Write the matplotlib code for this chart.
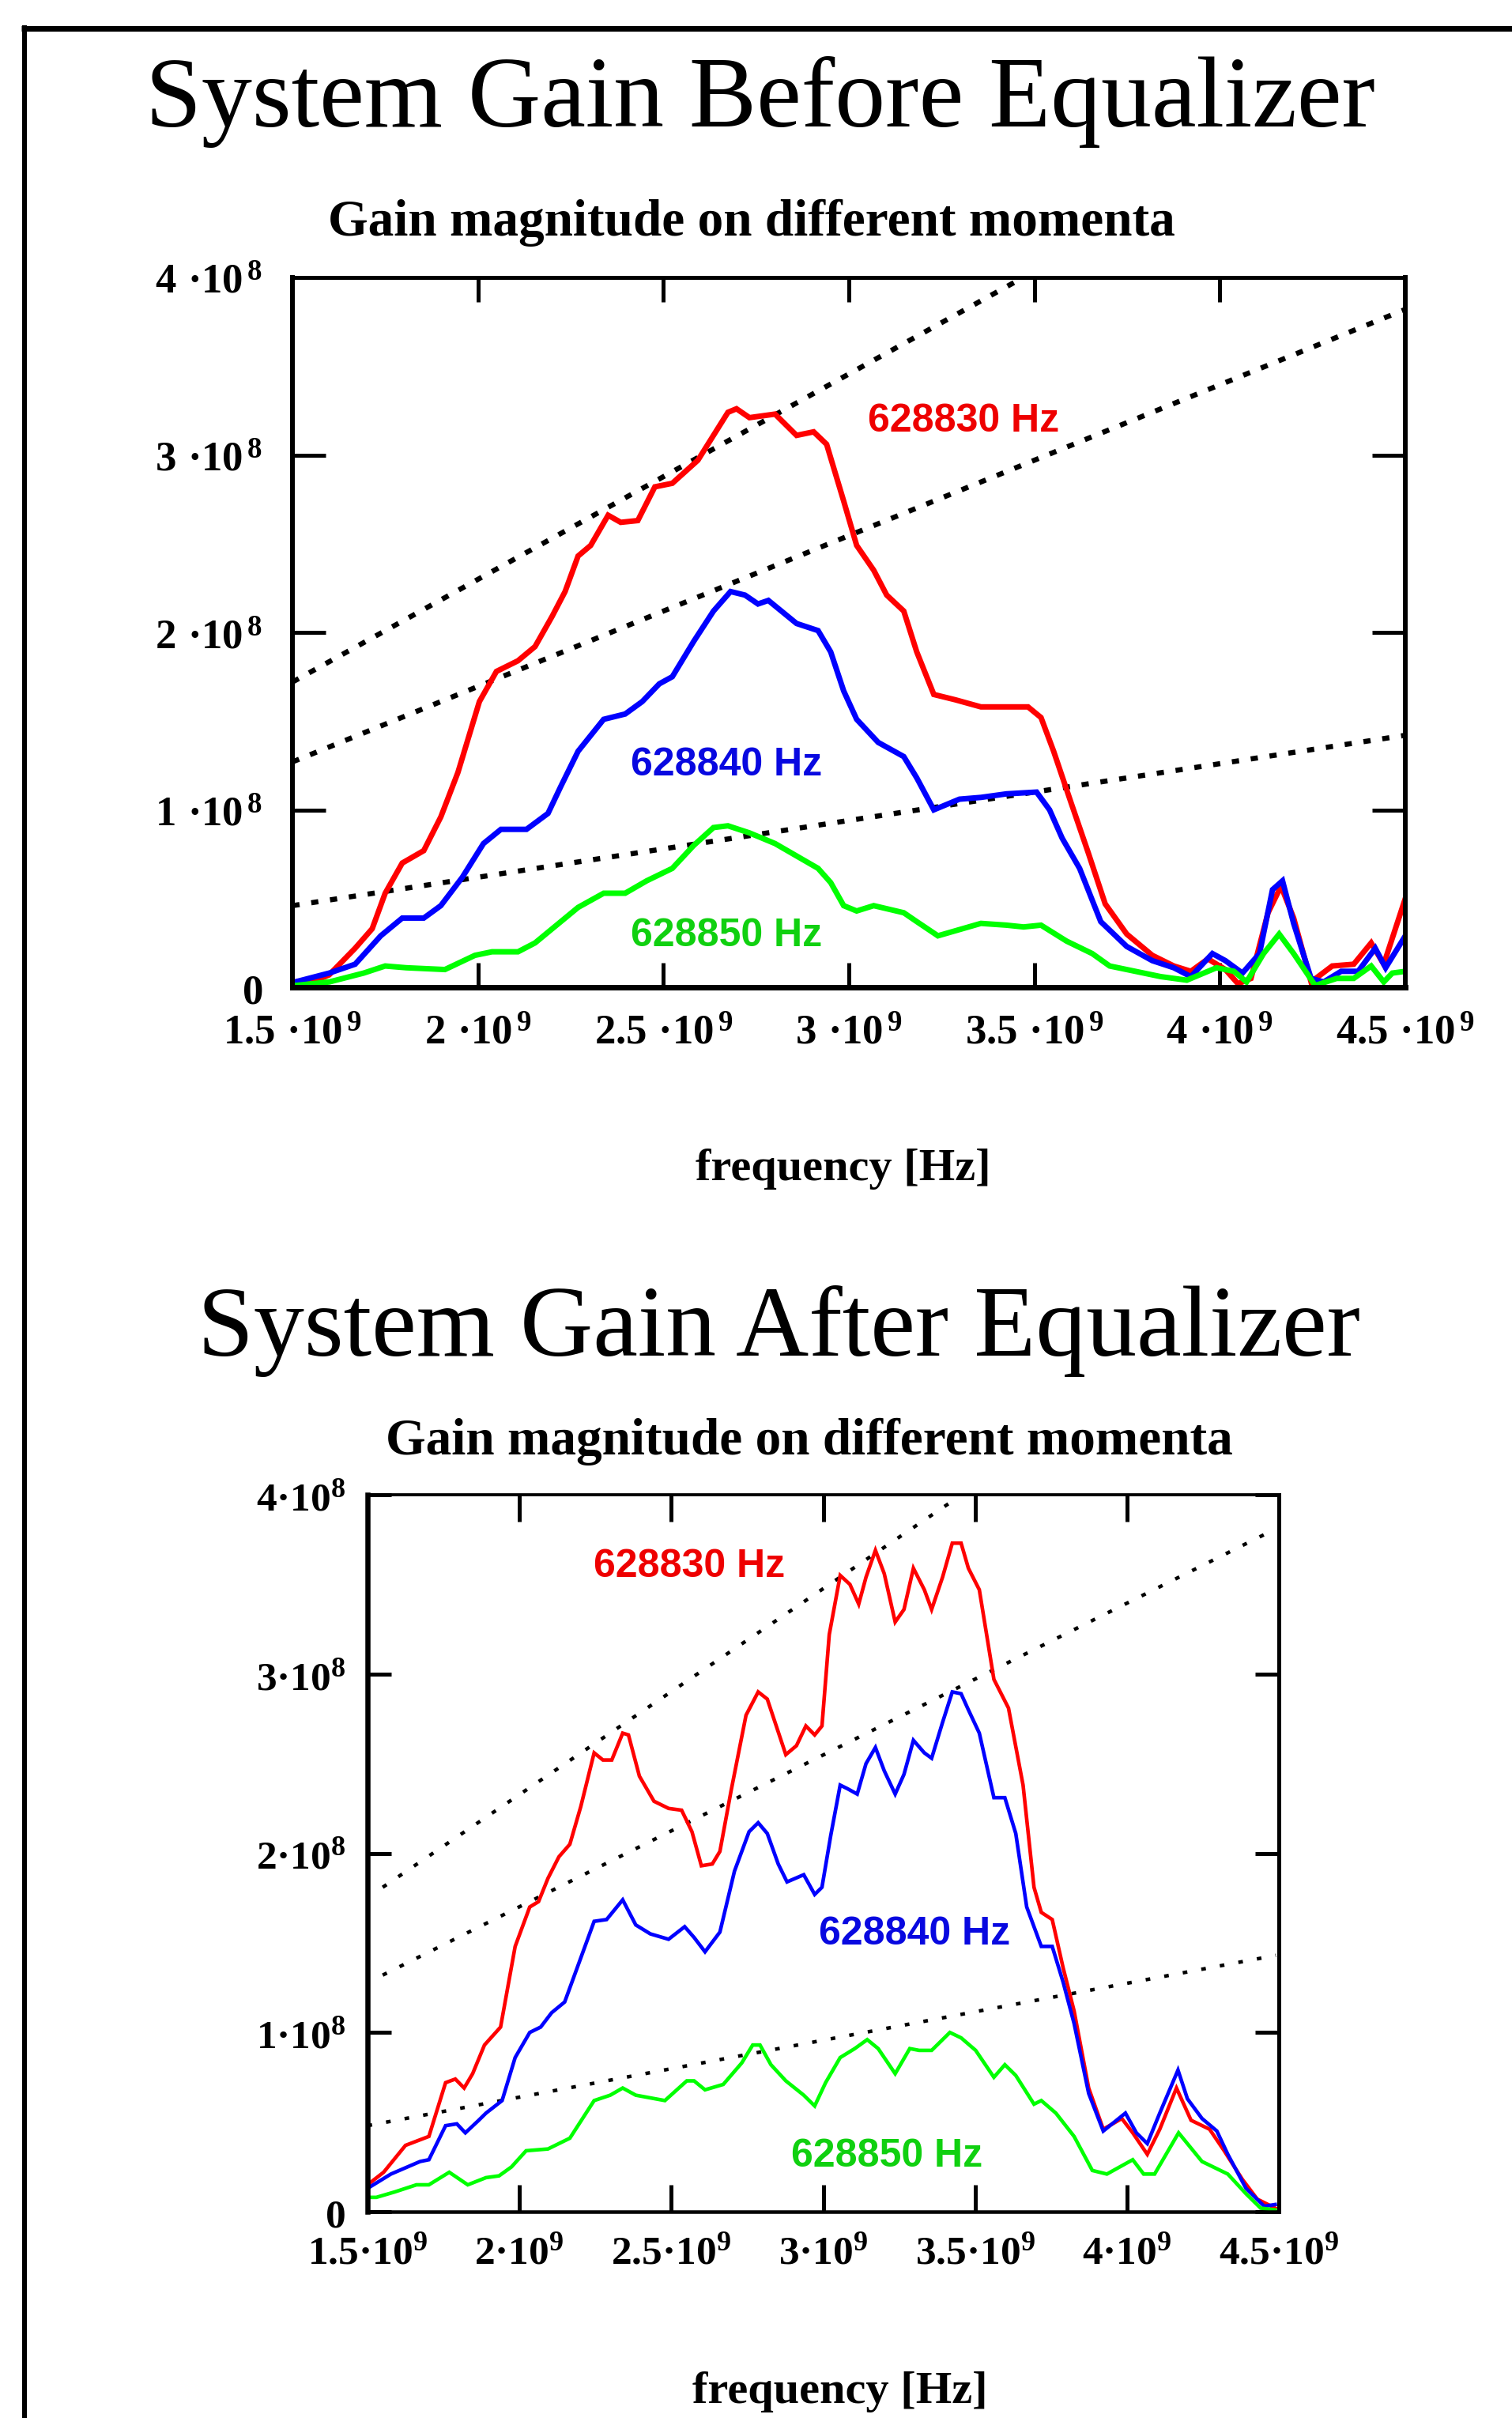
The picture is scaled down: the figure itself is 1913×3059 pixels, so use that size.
import matplotlib
matplotlib.use('Agg')
import matplotlib.pyplot as plt
from matplotlib.lines import Line2D

W, H, DPI = 1913, 3059, 100

# ---------------- data (x in 1e9 Hz, y in 1e8) ----------------
# Top chart: before equalizer
before_830_x = [1.507, 1.576, 1.599, 1.669, 1.715, 1.750, 1.796, 1.854, 1.900, 1.946,
                2.004, 2.050, 2.108, 2.154, 2.200, 2.235, 2.270, 2.304, 2.351, 2.385,
                2.431, 2.477, 2.524, 2.593, 2.674, 2.697, 2.732, 2.801, 2.859, 2.905,
                2.940, 2.986, 3.021, 3.067, 3.102, 3.148, 3.183, 3.229, 3.287, 3.356,
                3.483, 3.518, 3.552, 3.599, 3.645, 3.691, 3.749, 3.818, 3.876, 3.922,
                3.968, 4.015, 4.049, 4.084, 4.130, 4.165, 4.199, 4.246, 4.303, 4.361,
                4.408, 4.442, 4.500]
before_830_y = [0.03, 0.05, 0.07, 0.22, 0.33, 0.53, 0.70, 0.77, 0.96, 1.21,
                1.61, 1.78, 1.84, 1.92, 2.09, 2.23, 2.43, 2.49, 2.66, 2.62,
                2.63, 2.82, 2.84, 2.97, 3.24, 3.26, 3.21, 3.23, 3.11, 3.13,
                3.06, 2.74, 2.49, 2.35, 2.21, 2.12, 1.89, 1.65, 1.62, 1.58,
                1.58, 1.52, 1.33, 1.04, 0.76, 0.47, 0.30, 0.18, 0.12, 0.09,
                0.16, 0.10, 0.02, 0.05, 0.42, 0.57, 0.39, 0.03, 0.12, 0.13,
                0.25, 0.13, 0.50]

before_840_x = [1.507, 1.599, 1.669, 1.738, 1.796, 1.854, 1.900, 1.958, 2.015, 2.062,
                2.131, 2.189, 2.223, 2.270, 2.339, 2.397, 2.443, 2.489, 2.524, 2.582,
                2.635, 2.681, 2.720, 2.755, 2.783, 2.859, 2.917, 2.951, 2.986, 3.021,
                3.079, 3.148, 3.183, 3.229, 3.298, 3.356, 3.425, 3.506, 3.541, 3.575,
                3.622, 3.679, 3.749, 3.818, 3.876, 3.922, 3.980, 4.015, 4.061, 4.107,
                4.142, 4.169, 4.199, 4.246, 4.280, 4.327, 4.373, 4.419, 4.447, 4.500]
before_840_y = [0.03, 0.08, 0.13, 0.29, 0.39, 0.39, 0.46, 0.62, 0.81, 0.89,
                0.89, 0.98, 1.13, 1.33, 1.51, 1.54, 1.61, 1.71, 1.75, 1.95,
                2.12, 2.23, 2.21, 2.16, 2.18, 2.05, 2.01, 1.89, 1.67, 1.51,
                1.38, 1.30, 1.18, 1.00, 1.06, 1.07, 1.09, 1.10, 1.00, 0.84,
                0.67, 0.37, 0.23, 0.15, 0.11, 0.06, 0.19, 0.15, 0.08, 0.19,
                0.55, 0.60, 0.36, 0.05, 0.03, 0.09, 0.09, 0.22, 0.11, 0.29]

before_850_x = [1.507, 1.599, 1.692, 1.750, 1.807, 1.911, 1.992, 2.038, 2.108, 2.154,
                2.212, 2.270, 2.339, 2.397, 2.455, 2.524, 2.582, 2.635, 2.674, 2.732,
                2.801, 2.859, 2.917, 2.951, 2.986, 3.021, 3.067, 3.148, 3.183, 3.240,
                3.356, 3.425, 3.471, 3.518, 3.587, 3.656, 3.703, 3.772, 3.841, 3.911,
                3.991, 4.038, 4.072, 4.118, 4.160, 4.199, 4.257, 4.315, 4.361, 4.408,
                4.442, 4.465, 4.500]
before_850_y = [0.01, 0.03, 0.08, 0.12, 0.11, 0.10, 0.18, 0.20, 0.20, 0.25,
                0.35, 0.45, 0.53, 0.53, 0.60, 0.67, 0.80, 0.90, 0.91, 0.87,
                0.81, 0.74, 0.67, 0.59, 0.46, 0.43, 0.46, 0.42, 0.37, 0.29,
                0.36, 0.35, 0.34, 0.35, 0.26, 0.19, 0.12, 0.09, 0.06, 0.04,
                0.11, 0.09, 0.03, 0.19, 0.30, 0.19, 0.01, 0.05, 0.05, 0.12,
                0.03, 0.08, 0.09]

# Bottom chart: after equalizer
after_830_x = [1.500, 1.553, 1.625, 1.702, 1.757, 1.789, 1.818, 1.846, 1.885, 1.938,
               1.986, 2.034, 2.063, 2.094, 2.130, 2.166, 2.202, 2.246, 2.275, 2.304,
               2.340, 2.359, 2.395, 2.443, 2.491, 2.534, 2.568, 2.599, 2.635, 2.660,
               2.697, 2.746, 2.786, 2.816, 2.877, 2.912, 2.943, 2.972, 2.996, 3.020,
               3.056, 3.088, 3.117, 3.141, 3.172, 3.201, 3.237, 3.266, 3.297, 3.333,
               3.357, 3.393, 3.425, 3.454, 3.478, 3.514, 3.562, 3.610, 3.658, 3.694,
               3.718, 3.754, 3.790, 3.826, 3.874, 3.922, 3.983, 4.019, 4.067, 4.108,
               4.163, 4.211, 4.272, 4.320, 4.380, 4.429, 4.488]
after_830_y = [0.15, 0.22, 0.37, 0.42, 0.72, 0.74, 0.69, 0.77, 0.93, 1.03,
               1.48, 1.70, 1.73, 1.86, 1.98, 2.05, 2.26, 2.56, 2.52, 2.52,
               2.67, 2.66, 2.43, 2.29, 2.25, 2.24, 2.12, 1.93, 1.94, 2.01,
               2.35, 2.77, 2.90, 2.86, 2.55, 2.60, 2.71, 2.66, 2.71, 3.22,
               3.55, 3.50, 3.39, 3.54, 3.69, 3.56, 3.29, 3.36, 3.59, 3.47,
               3.36, 3.54, 3.73, 3.73, 3.59, 3.47, 2.97, 2.81, 2.38, 1.81,
               1.67, 1.63, 1.36, 1.12, 0.69, 0.46, 0.52, 0.44, 0.32, 0.46,
               0.69, 0.51, 0.46, 0.34, 0.18, 0.07, 0.02]

after_840_x = [1.500, 1.577, 1.673, 1.702, 1.757, 1.794, 1.822, 1.866, 1.890, 1.943,
               1.986, 2.034, 2.070, 2.106, 2.149, 2.190, 2.246, 2.287, 2.340, 2.383,
               2.431, 2.491, 2.544, 2.575, 2.611, 2.660, 2.708, 2.756, 2.786, 2.816,
               2.852, 2.881, 2.936, 2.972, 2.996, 3.025, 3.056, 3.080, 3.112, 3.141,
               3.172, 3.201, 3.237, 3.266, 3.297, 3.333, 3.357, 3.393, 3.425, 3.454,
               3.478, 3.514, 3.562, 3.598, 3.634, 3.670, 3.718, 3.754, 3.790, 3.826,
               3.874, 3.922, 3.995, 4.031, 4.067, 4.108, 4.168, 4.199, 4.247, 4.296,
               4.332, 4.392, 4.452, 4.488]
after_840_y = [0.13, 0.21, 0.28, 0.29, 0.48, 0.49, 0.44, 0.51, 0.55, 0.62,
               0.86, 1.00, 1.03, 1.11, 1.17, 1.36, 1.62, 1.63, 1.74, 1.60,
               1.55, 1.52, 1.59, 1.53, 1.45, 1.56, 1.90, 2.12, 2.17, 2.11,
               1.94, 1.84, 1.88, 1.77, 1.81, 2.10, 2.38, 2.36, 2.33, 2.50,
               2.59, 2.46, 2.33, 2.44, 2.63, 2.56, 2.53, 2.73, 2.90, 2.89,
               2.80, 2.67, 2.31, 2.31, 2.11, 1.70, 1.48, 1.48, 1.28, 1.05,
               0.66, 0.45, 0.55, 0.44, 0.38, 0.55, 0.79, 0.63, 0.52, 0.45,
               0.32, 0.13, 0.03, 0.04]

after_850_x = [1.500, 1.529, 1.589, 1.661, 1.702, 1.769, 1.830, 1.890, 1.933, 1.974,
               2.022, 2.094, 2.166, 2.246, 2.299, 2.340, 2.383, 2.479, 2.551, 2.575,
               2.611, 2.671, 2.732, 2.768, 2.792, 2.828, 2.877, 2.936, 2.972, 3.008,
               3.056, 3.104, 3.145, 3.181, 3.237, 3.285, 3.316, 3.357, 3.417, 3.454,
               3.502, 3.562, 3.598, 3.634, 3.694, 3.718, 3.766, 3.826, 3.886, 3.934,
               4.019, 4.055, 4.091, 4.170, 4.247, 4.332, 4.392, 4.440, 4.488]
after_850_y = [0.08, 0.08, 0.11, 0.15, 0.15, 0.22, 0.15, 0.19, 0.20, 0.25,
               0.34, 0.35, 0.41, 0.62, 0.65, 0.69, 0.65, 0.62, 0.73, 0.73,
               0.68, 0.71, 0.83, 0.93, 0.93, 0.82, 0.73, 0.65, 0.59, 0.72,
               0.86, 0.91, 0.96, 0.91, 0.77, 0.91, 0.90, 0.90, 1.00, 0.97,
               0.90, 0.75, 0.82, 0.76, 0.60, 0.62, 0.55, 0.42, 0.23, 0.21,
               0.29, 0.21, 0.21, 0.44, 0.28, 0.21, 0.10, 0.02, 0.01]

# dotted reference lines: (x0, x1), (y0, y1)
before_refs = [((1.50, 3.47), (1.72, 4.00)),
               ((1.50, 4.50), (1.27, 3.82)),
               ((1.50, 4.50), (0.46, 1.42))]
after_refs = [((1.55, 3.43), (1.81, 3.97)),
              ((1.55, 4.49), (1.32, 3.81)),
              ((1.50, 4.49), (0.48, 1.43))]

series_names = ['628830 Hz', '628840 Hz', '628850 Hz']
line_colors = ['#ff0000', '#0000ff', '#00ff00']
text_colors = ['#ee0000', '#0808e0', '#10d010']
before_label_pos = [(3.31, 3.19), (2.67, 1.25), (2.67, 0.29)]
after_label_pos = [(2.56, 3.60), (3.30, 1.55), (3.21, 0.31)]

xtick_vals = [1.5, 2.0, 2.5, 3.0, 3.5, 4.0, 4.5]
ytick_vals = [0, 1, 2, 3, 4]
before_xticklabels = [r'$1.5\ ·10^{\,9}$', r'$2\ ·10^{\,9}$', r'$2.5\ ·10^{\,9}$',
                      r'$3\ ·10^{\,9}$', r'$3.5\ ·10^{\,9}$', r'$4\ ·10^{\,9}$',
                      r'$4.5\ ·10^{\,9}$']
before_yticklabels = [r'$0$', r'$1\ ·10^{\,8}$', r'$2\ ·10^{\,8}$',
                      r'$3\ ·10^{\,8}$', r'$4\ ·10^{\,8}$']
after_xticklabels = [r'$1.5·10^{9}$', r'$2·10^{9}$', r'$2.5·10^{9}$',
                     r'$3·10^{9}$', r'$3.5·10^{9}$', r'$4·10^{9}$',
                     r'$4.5·10^{9}$']
after_yticklabels = [r'$0$', r'$1·10^{8}$', r'$2·10^{8}$',
                     r'$3·10^{8}$', r'$4·10^{8}$']

# ---------------- drawing ----------------
plt.rcParams['mathtext.fontset'] = 'custom'
plt.rcParams['mathtext.rm'] = 'Liberation Serif:bold'
plt.rcParams['mathtext.bf'] = 'Liberation Serif:bold'
plt.rcParams['mathtext.it'] = 'Liberation Serif:bold'
plt.rcParams['mathtext.default'] = 'bf'

PT = 72.0 / DPI  # points per pixel

fig = plt.figure(figsize=(W / DPI, H / DPI), dpi=DPI)
fig.patch.set_facecolor('white')


def box(l, t, r, b):
    return [l / W, 1 - b / H, (r - l) / W, (b - t) / H]


def draw_panel(ax, curves, refs, label_pos, curve_lw, ref_lw, ref_dash,
               xlabels, ylabels, tick_fs, spine_w, tick_w, xlen, ylen, xpad, ypad):
    for (xs, ys) in refs:
        ax.plot(xs, ys, color='black', lw=ref_lw, linestyle=(0, ref_dash),
                solid_capstyle='butt', zorder=1)
    for (cx, cy), col in zip(curves, line_colors):
        ax.plot(cx, cy, color=col, lw=curve_lw, solid_joinstyle='miter', zorder=2)
    for name, (tx, ty), tc in zip(series_names, label_pos, text_colors):
        ax.text(tx, ty, name, color=tc, fontsize=36, fontweight='bold',
                family=['Liberation Sans', 'DejaVu Sans'], ha='center', va='center', zorder=3)
    ax.set_xlim(1.5, 4.5)
    ax.set_ylim(0, 4)
    ax.set_xticks(xtick_vals)
    ax.set_xticklabels(xlabels)
    ax.set_yticks(ytick_vals)
    ax.set_yticklabels(ylabels)
    ax.tick_params(axis='x', direction='in', top=True, bottom=True, length=xlen,
                   width=tick_w, pad=xpad, labelsize=tick_fs, colors='black')
    ax.tick_params(axis='y', direction='in', left=True, right=True, length=ylen,
                   width=tick_w, pad=ypad, labelsize=tick_fs, colors='black')
    for side, w in spine_w.items():
        ax.spines[side].set_linewidth(w)
        ax.spines[side].set_color('black')
    ax.set_facecolor('white')


ax1 = fig.add_axes(box(370, 351, 1778, 1249))
draw_panel(ax1,
           [(before_830_x, before_830_y), (before_840_x, before_840_y), (before_850_x, before_850_y)],
           before_refs, before_label_pos,
           curve_lw=7 * PT, ref_lw=6.5 * PT, ref_dash=(1.4, 2.3),
           xlabels=before_xticklabels, ylabels=before_yticklabels, tick_fs=38,
           spine_w={'left': 6 * PT, 'right': 6 * PT, 'top': 5 * PT, 'bottom': 7 * PT},
           tick_w=5 * PT, xlen=31 * PT, ylen=42 * PT, xpad=31 * PT, ypad=38 * PT)

ax2 = fig.add_axes(box(465, 1891, 1618, 2798))
draw_panel(ax2,
           [(after_830_x, after_830_y), (after_840_x, after_840_y), (after_850_x, after_850_y)],
           after_refs, after_label_pos,
           curve_lw=4.6 * PT, ref_lw=4.5 * PT, ref_dash=(1.3, 4.0),
           xlabels=after_xticklabels, ylabels=after_yticklabels, tick_fs=37,
           spine_w={'left': 6.5 * PT, 'right': 5 * PT, 'top': 3.8 * PT, 'bottom': 4.5 * PT},
           tick_w=5 * PT, xlen=34 * PT, ylen=30 * PT, xpad=27 * PT, ypad=28 * PT)

serif = ['Liberation Serif', 'DejaVu Serif']
fig.text(962 / W, 1 - 160 / H, 'System Gain Before Equalizer', family=serif,
         fontsize=92, ha='center', va='baseline')
fig.text(986 / W, 1 - 1715 / H, 'System Gain After Equalizer', family=serif,
         fontsize=92, ha='center', va='baseline')
fig.text(951 / W, 1 - 298 / H, 'Gain magnitude on different momenta', family=serif,
         fontweight='bold', fontsize=47, ha='center', va='baseline')
fig.text(1024 / W, 1 - 1840 / H, 'Gain magnitude on different momenta', family=serif,
         fontweight='bold', fontsize=47, ha='center', va='baseline')
fig.text(1067 / W, 1 - 1493 / H, 'frequency [Hz]', family=serif,
         fontweight='bold', fontsize=42, ha='center', va='baseline')
fig.text(1063 / W, 1 - 3040 / H, 'frequency [Hz]', family=serif,
         fontweight='bold', fontsize=42, ha='center', va='baseline')

# outer frame lines (top and left)
fig.add_artist(Line2D([27 / W, 1.0], [1 - 35.5 / H, 1 - 35.5 / H], transform=fig.transFigure,
                      color='black', lw=7 * PT, solid_capstyle='butt'))
fig.add_artist(Line2D([31 / W, 31 / W], [0.0, 1 - 32 / H], transform=fig.transFigure,
                      color='black', lw=6 * PT, solid_capstyle='butt'))

fig.savefig('out.png', dpi=DPI, facecolor='white')
